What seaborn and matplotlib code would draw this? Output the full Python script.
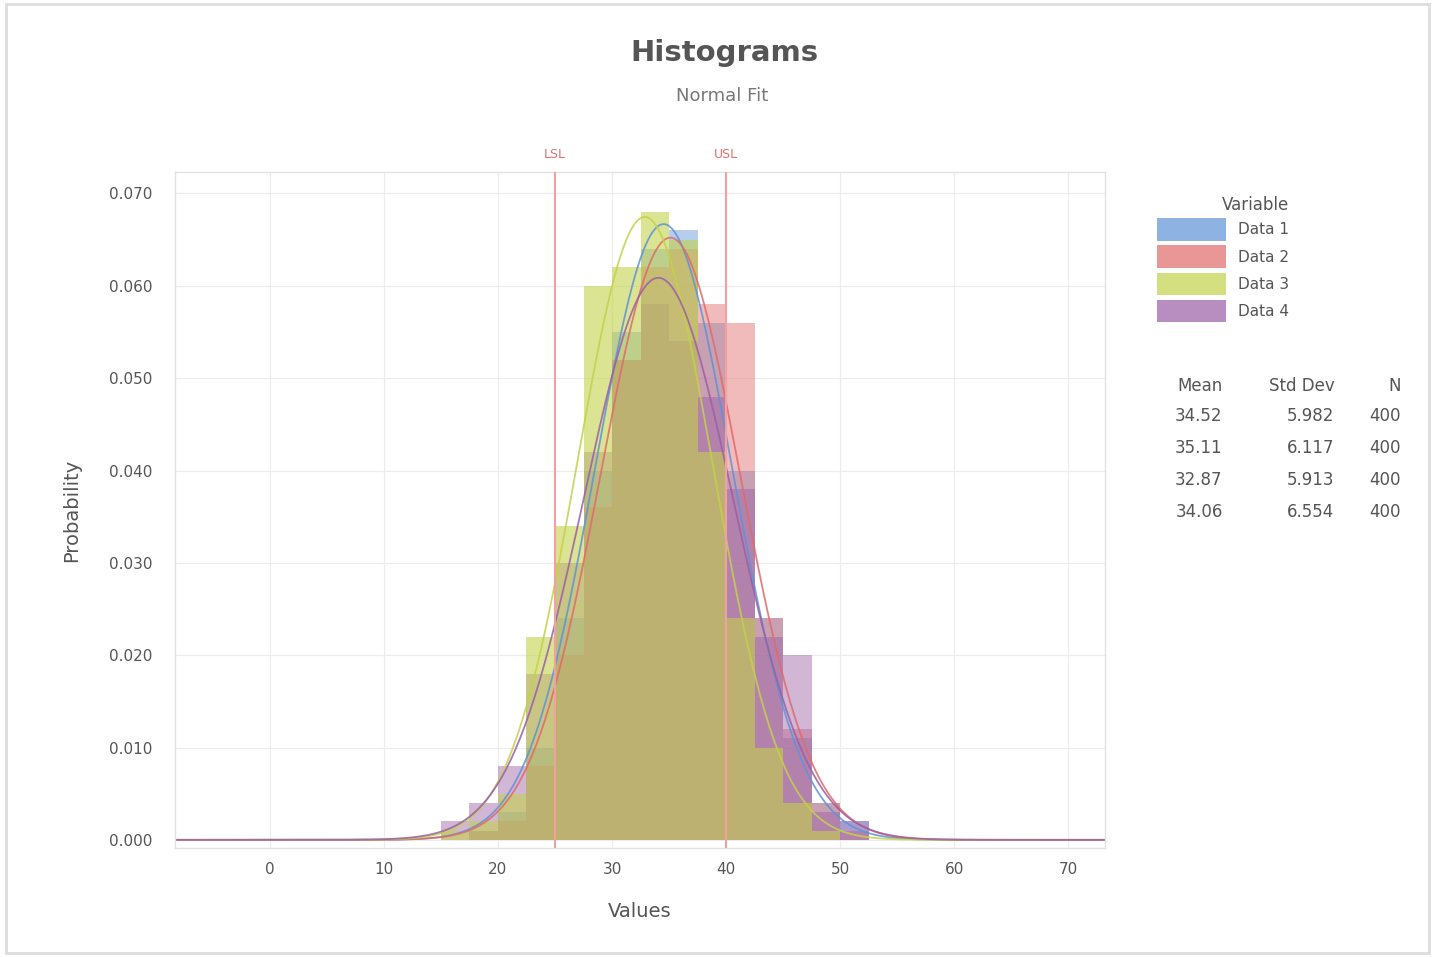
import numpy as np
import pandas as pd
import matplotlib
matplotlib.use("Agg")
import matplotlib.pyplot as plt
import matplotlib.patches as mpatches
import seaborn as sns

# ---- data ----
bin_edges = [15, 17.5, 20, 22.5, 25, 27.5, 30, 32.5, 35, 37.5, 40, 42.5, 45, 47.5, 50, 52.5]
series_names = ["Data 1", "Data 2", "Data 3", "Data 4"]
dens_1 = [0.000, 0.001, 0.003, 0.010, 0.024, 0.040, 0.055, 0.064, 0.066, 0.056, 0.040, 0.024, 0.011, 0.004, 0.002]
dens_2 = [0.000, 0.001, 0.002, 0.008, 0.020, 0.036, 0.052, 0.062, 0.064, 0.058, 0.056, 0.024, 0.012, 0.004, 0.001]
dens_3 = [0.001, 0.002, 0.005, 0.022, 0.034, 0.060, 0.062, 0.068, 0.065, 0.042, 0.024, 0.010, 0.004, 0.001, 0.000]
dens_4 = [0.002, 0.004, 0.008, 0.018, 0.030, 0.042, 0.052, 0.058, 0.054, 0.048, 0.038, 0.022, 0.020, 0.003, 0.002]
means = [34.52, 35.11, 32.87, 34.06]
stdevs = [5.982, 6.117, 5.913, 6.554]
counts = [400, 400, 400, 400]
x_ticks = [0, 10, 20, 30, 40, 50, 60, 70]
y_ticks = [0.00, 0.01, 0.02, 0.03, 0.04, 0.05, 0.06, 0.07]
spec_lines = [25, 40]
spec_labels = ["LSL", "USL"]

colors = ["#5f93d6", "#e06a6a", "#c3d24a", "#9a5fa6"]
alphas = [0.45, 0.45, 0.6, 0.45]

sns.set_theme(style="white")
plt.rcParams["font.family"] = ["DejaVu Sans"]

fig = plt.figure(figsize=(14.35, 9.57), dpi=100)
ax = fig.add_axes([0.122, 0.114, 0.648, 0.706])

centers = [(a + b) / 2 for a, b in zip(bin_edges[:-1], bin_edges[1:])]
dens_by_series = {0: dens_1, 1: dens_2, 2: dens_3, 3: dens_4}
draw_order = [0, 1, 3, 2]
handles = {}
for idx in draw_order:
    df = pd.DataFrame({"x": centers, "w": dens_by_series[idx]})
    sns.histplot(data=df, x="x", weights="w", bins=bin_edges, stat="count",
                 color=colors[idx], alpha=alphas[idx], edgecolor="none",
                 linewidth=0, ax=ax)
    handles[idx] = mpatches.Patch(facecolor=colors[idx], alpha=0.7, edgecolor="none")

xgrid = np.linspace(-8.3, 73.2, 400)
for i in range(4):
    pdf = np.exp(-0.5 * ((xgrid - means[i]) / stdevs[i]) ** 2) / (stdevs[i] * np.sqrt(2 * np.pi))
    sns.lineplot(x=xgrid, y=pdf, color=colors[i], linewidth=1.3, alpha=0.85, ax=ax)

for v, lab in zip(spec_lines, spec_labels):
    ax.axvline(v, color="#f2a0a0", linewidth=1.5, zorder=5)
    ax.text(v, 0.0735, lab, color="#e07070", ha="center", va="bottom", fontsize=9, clip_on=False)

ax.set_xlim(-8.3, 73.2)
ax.set_ylim(-0.00087, 0.0723)
ax.set_xticks(x_ticks)
ax.set_xticklabels([str(t) for t in x_ticks])
ax.set_yticks(y_ticks)
ax.set_yticklabels([f"{t:.3f}" for t in y_ticks])
ax.tick_params(axis="both", labelsize=11, colors="#555555", length=0, pad=10)
ax.tick_params(axis="y", pad=16)
ax.grid(True, color="#ececec", linewidth=0.8)
ax.set_axisbelow(True)
for s in ax.spines.values():
    s.set_color("#e2e2e2")
    s.set_linewidth(1.0)
ax.set_xlabel("Values", fontsize=14, color="#555555", labelpad=18)
ax.set_ylabel("Probability", fontsize=14, color="#555555", labelpad=20)

fig.text(0.505, 0.945, "Histograms", ha="center", va="center", fontsize=21,
         fontweight="bold", color="#555555")
fig.text(0.503, 0.900, "Normal Fit", ha="center", va="center", fontsize=13, color="#777777")

leg = fig.legend([handles[i] for i in range(4)], series_names, title="Variable",
                 loc="upper left", bbox_to_anchor=(0.797, 0.81), frameon=False,
                 handlelength=4.5, handleheight=1.9, labelspacing=0.3, fontsize=11,
                 title_fontsize=12, alignment="right")
for t in leg.get_texts():
    t.set_color("#555555")
leg.get_title().set_color("#555555")

# stats table
col_x = [0.852, 0.930, 0.976]
heads = ["Mean", "Std Dev", "N"]
for cx, h in zip(col_x, heads):
    fig.text(cx, 0.597, h, ha="right", va="center", fontsize=12, color="#555555")
for r in range(4):
    y = 0.565 - r * 0.0335
    fig.text(col_x[0], y, f"{means[r]:.2f}", ha="right", va="center", fontsize=12, color="#555555")
    fig.text(col_x[1], y, f"{stdevs[r]:.3f}", ha="right", va="center", fontsize=12, color="#555555")
    fig.text(col_x[2], y, f"{counts[r]}", ha="right", va="center", fontsize=12, color="#555555")

fig.patches.append(mpatches.Rectangle((0.004, 0.004), 0.992, 0.992, transform=fig.transFigure,
                                      fill=False, edgecolor="#dddddd", linewidth=2))

fig.savefig("out.png", dpi=100)
